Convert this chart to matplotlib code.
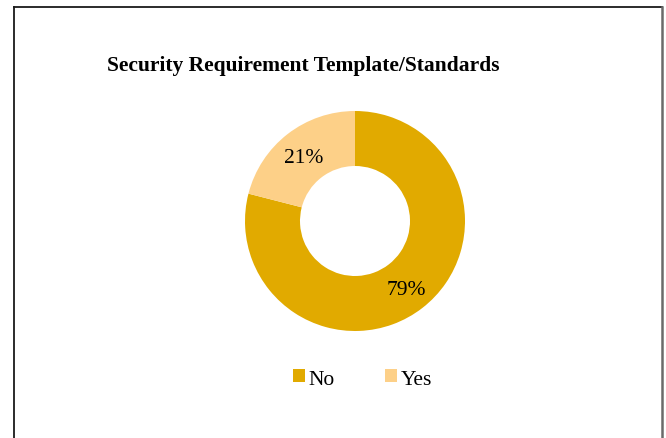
import matplotlib
matplotlib.use("Agg")
from matplotlib import pyplot as plt
from matplotlib.patches import Patch
from matplotlib.lines import Line2D

title = "Security Requirement Template/Standards"
labels = ["No", "Yes"]
shares = [79, 21]
colors = ["#E1AA00", "#FDD088"]

W, H = 666, 439
FS = 15.5
plt.rcParams["font.family"] = ["Liberation Serif", "DejaVu Serif"]

fig = plt.figure(figsize=(W / 100, H / 100), dpi=100)
fig.patch.set_facecolor("white")

# donut, centre at (355, 222) px, outer radius 110 px
cx, cy, r = 355, 222, 110
ax = fig.add_axes([(cx - r) / W, 1 - (cy + r) / H, 2 * r / W, 2 * r / H])
wedges, texts, pcts = ax.pie(shares, colors=colors, startangle=90, counterclock=False,
                             radius=1, autopct="%.0f%%", pctdistance=0.76,
                             wedgeprops=dict(width=0.5, linewidth=0),
                             textprops=dict(fontsize=FS, color="black"))
for t in pcts:
    t.set_va("center_baseline")
ax.set_xlim(-1, 1)
ax.set_ylim(-1, 1)
ax.set_aspect("equal")
ax.axis("off")

fig.text(303 / W, 1 - 64 / H, title, ha="center", va="center_baseline",
         fontsize=FS, fontweight="bold")

handles = [Patch(facecolor=c, edgecolor="none") for c in colors]
fig.legend(handles, labels, loc="center", bbox_to_anchor=(362.5 / W, 1 - 380 / H),
           ncol=2, frameon=False, fontsize=FS, handlelength=0.55, handleheight=0.55,
           handletextpad=0.2, columnspacing=2.3, borderpad=0)

# chart frame (left, top, right edges)
x0, x1, y0 = 13.5 / W, 662 / W, 1 - 8 / H
fig.add_artist(Line2D([x0, x0], [0, y0], color="#1a1a1a", lw=1.3))
fig.add_artist(Line2D([x0, x1], [y0, y0], color="#1a1a1a", lw=1.3))
fig.add_artist(Line2D([x1, x1], [0, y0], color="#6a6a6a", lw=1.8))

fig.savefig("out.png", dpi=100)
